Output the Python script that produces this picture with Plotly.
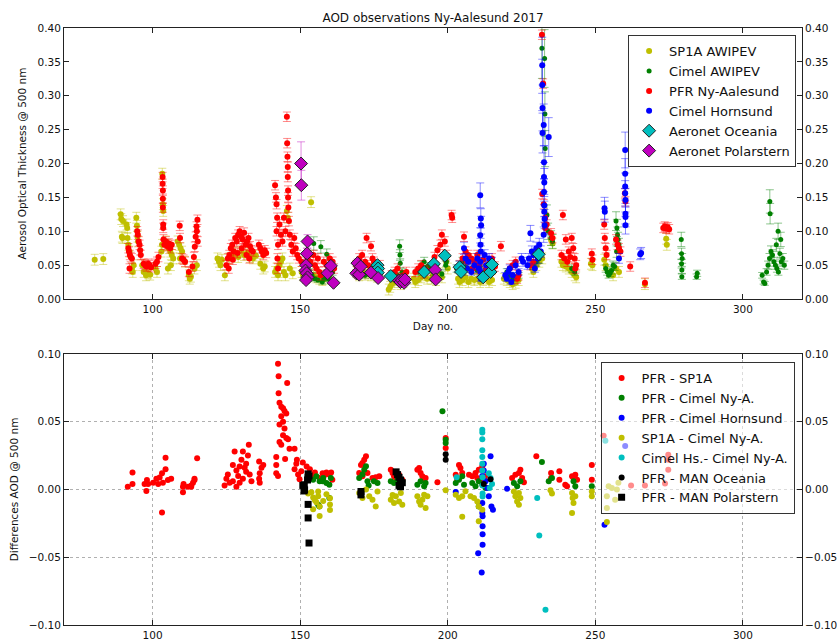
import plotly.graph_objects as go

# ---------------- upper panel: AOD at 500 nm per instrument ----------------
SP1A_DAY = [80.4, 83.3,
            89.2, 89.4, 89.6, 89.8, 90.0, 91.2, 91.4, 91.5, 91.8, 92.2,
            93.0, 93.3, 93.6, 94.5, 94.7, 94.9, 95.1,
            96.5, 97.0, 97.8, 98.5, 99.2, 101.0, 101.5,
            103.0, 103.2, 103.3, 103.5, 103.6, 104.5, 105.0, 105.2, 105.5, 106.0, 106.2, 106.5, 107.0,
            108.5, 109.0, 109.3, 109.5, 110.0, 111.0, 112.3, 112.6, 113.0, 114.2, 115.0,
            122.0, 122.5, 123.0, 123.5, 124.5, 126.0, 127.0, 128.0, 129.0, 130.0, 131.0, 132.0, 133.0, 134.0, 135.0,
            136.5, 137.5, 138.0, 141.5, 142.0, 142.5, 143.0, 143.5, 144.0, 144.5, 145.0, 145.5, 145.8, 146.5, 147.5,
            150.5, 151.0, 151.5, 152.0, 152.5, 153.0, 153.7, 154.5, 155.5, 156.5, 157.5, 158.5, 160.0,
            169.0, 169.5, 170.0, 171.0, 172.0, 173.0, 174.0, 175.0, 175.5, 176.0,
            180.0, 180.5, 181.0, 182.0, 183.0, 184.0, 185.0, 188.5, 189.0, 190.0, 191.0, 192.0, 193.0,
            194.5, 195.0, 196.0, 197.0, 198.0, 199.5, 200.0,
            203.5, 204.0, 205.0, 206.0, 207.0, 208.0, 209.0, 210.0, 211.0, 212.0, 213.0, 214.0, 215.0,
            219.0, 220.0, 221.0, 222.0, 223.0, 224.0, 228.5, 229.0, 230.0, 231.0, 232.0, 235.0, 235.5,
            238.5, 239.0, 240.0, 241.0, 242.0, 243.0, 243.5, 248.5, 249.0,
            253.0, 253.5, 255.0, 256.0, 257.0, 258.0, 266.8, 274.0, 274.2]
SP1A_AOD = [0.058, 0.059,
            0.125, 0.118, 0.092, 0.090, 0.115, 0.110, 0.105, 0.090, 0.080, 0.070,
            0.045, 0.040, 0.050, 0.120, 0.108, 0.092, 0.085,
            0.050, 0.040, 0.035, 0.038, 0.036, 0.045, 0.040,
            0.070, 0.080, 0.185, 0.140, 0.130, 0.085, 0.080, 0.045, 0.075, 0.070, 0.050, 0.065, 0.060,
            0.085, 0.080, 0.060, 0.075, 0.070, 0.055, 0.035, 0.030, 0.033, 0.045, 0.050,
            0.060, 0.055, 0.050, 0.058, 0.035, 0.060, 0.065, 0.068, 0.062, 0.070, 0.065, 0.068, 0.062, 0.060, 0.064,
            0.052, 0.045, 0.048, 0.040, 0.045, 0.035, 0.050, 0.055, 0.060, 0.040, 0.035, 0.130, 0.120, 0.045, 0.038,
            0.040, 0.035, 0.045, 0.038, 0.033, 0.040, 0.143, 0.035, 0.032, 0.030, 0.028, 0.030, 0.035,
            0.040, 0.038, 0.035, 0.040, 0.036, 0.038, 0.035, 0.050, 0.040, 0.033,
            0.014, 0.018, 0.022, 0.025, 0.028, 0.022, 0.025, 0.030, 0.025, 0.028, 0.032, 0.035, 0.030,
            0.030, 0.035, 0.028, 0.038, 0.032, 0.055, 0.045,
            0.030, 0.025, 0.028, 0.032, 0.025, 0.030, 0.028, 0.030, 0.025, 0.028, 0.030, 0.025, 0.028,
            0.030, 0.028, 0.025, 0.022, 0.024, 0.028, 0.045, 0.040, 0.050, 0.055, 0.060, 0.087, 0.082,
            0.055, 0.050, 0.048, 0.045, 0.040, 0.035, 0.032, 0.052, 0.050,
            0.058, 0.050, 0.040, 0.035, 0.045, 0.040, 0.022, 0.089, 0.080]

CIMEL_AWI_DAY = [153.0, 154.0, 154.6, 155.0, 156.0, 157.0, 157.5, 158.0, 159.0, 159.5, 160.0, 161.0,
                 170.0, 171.0, 172.0, 173.0, 174.0, 176.0, 177.0,
                 182.0, 183.0, 183.7, 183.8, 183.9, 184.5, 185.0, 186.0,
                 190.0, 191.0, 192.0, 193.0, 194.0, 195.0, 196.0, 198.0, 199.3, 199.5,
                 203.0, 204.0, 205.0, 206.0, 207.0, 208.0, 209.0, 210.0, 211.0, 212.0, 213.0, 214.0,
                 220.0, 221.0, 222.0, 223.0, 224.0, 229.0, 230.0, 231.0,
                 231.9, 232.8, 232.9, 233.0, 233.6, 234.0, 235.0, 235.5, 242.0, 243.0,
                 253.5, 254.0, 254.5, 255.0, 255.5, 256.0, 256.5, 257.0, 257.2, 257.3, 257.5, 257.7, 258.0,
                 279.1, 279.2, 279.2, 279.3, 279.3, 279.4, 284.3, 284.5,
                 306.5, 307.0, 307.4, 308.0, 308.5, 309.0, 309.1, 309.2, 309.5, 310.0, 310.5, 311.0,
                 311.3, 311.5, 311.9, 312.0, 312.5, 312.8, 313.0, 313.5, 314.0]
CIMEL_AWI_AOD = [0.040, 0.035, 0.082, 0.030, 0.028, 0.077, 0.025, 0.030, 0.066, 0.030, 0.035, 0.040,
                 0.040, 0.045, 0.035, 0.038, 0.042, 0.045, 0.040,
                 0.030, 0.035, 0.078, 0.065, 0.053, 0.040, 0.035, 0.030,
                 0.040, 0.050, 0.055, 0.048, 0.045, 0.040, 0.045, 0.037, 0.050, 0.055,
                 0.045, 0.050, 0.055, 0.048, 0.060, 0.045, 0.050, 0.042, 0.048, 0.040, 0.045, 0.050,
                 0.040, 0.035, 0.030, 0.032, 0.035, 0.050, 0.055, 0.060,
                 0.370, 0.355, 0.273, 0.222, 0.124, 0.100, 0.090, 0.085, 0.045, 0.040,
                 0.045, 0.040, 0.035, 0.038, 0.042, 0.050, 0.048, 0.115, 0.070, 0.105, 0.095, 0.088, 0.080,
                 0.088, 0.067, 0.052, 0.043, 0.033, 0.060, 0.033, 0.038,
                 0.035, 0.025, 0.023, 0.040, 0.050, 0.060, 0.144, 0.126, 0.070, 0.065, 0.055, 0.050,
                 0.080, 0.045, 0.100, 0.040, 0.067, 0.088, 0.055, 0.060, 0.050]

PFR_DAY = [91.8, 92.0, 92.2, 92.3, 92.6, 93.0, 94.8, 95.0, 95.3, 95.6, 95.8, 96.0,
           97.0, 97.5, 98.0, 98.5, 99.0, 99.5, 101.0, 101.5, 102.0,
           103.4, 103.4, 103.5, 103.5, 103.5, 103.6, 103.6, 103.7, 104.0, 104.5, 105.0, 105.5, 106.0, 106.5,
           109.2, 109.3, 110.0, 110.5, 111.0, 112.3, 113.5, 114.0, 114.3, 114.6, 114.9, 115.0, 115.2, 115.3,
           125.0, 125.5, 125.8, 126.0, 126.5, 127.0, 127.2, 127.5, 128.0, 128.5, 128.8, 129.0, 129.5,
           130.0, 130.2, 130.5, 131.0, 131.5, 131.8, 132.0, 132.5, 132.8, 133.0, 133.5, 134.0,
           136.0, 136.5, 137.0, 137.5, 138.0, 138.5,
           141.5, 141.8, 142.0, 142.0, 142.2, 142.3, 142.5, 142.5, 143.0, 143.5, 144.0, 144.5, 145.0,
           145.5, 145.6, 145.7, 145.8, 145.8, 145.9, 145.9, 146.0, 146.2, 146.5, 147.0, 147.5, 148.0, 148.5, 149.0, 149.5,
           150.5, 151.5, 152.5, 153.5, 154.5, 155.0, 155.5, 156.0, 156.5, 157.0, 158.0, 159.0, 160.0, 161.0, 161.5,
           169.0, 170.0, 171.0, 172.0, 172.5, 173.0, 174.0, 174.5, 175.0, 176.0, 177.0,
           181.0, 182.0, 183.0, 184.0, 185.0, 186.0, 189.0, 190.0, 191.0, 192.0, 193.0,
           195.5, 196.5, 197.5, 198.0, 199.0, 199.5, 201.3, 201.5,
           204.0, 205.0, 205.5, 206.0, 206.5, 207.0, 208.0, 208.5, 209.0, 210.0, 210.5, 211.0, 212.0, 213.0,
           214.0, 215.0, 216.0, 218.0,
           221.0, 222.0, 223.0, 223.5, 224.0, 228.0, 229.0,
           231.9, 232.3, 232.0, 232.5, 233.0, 233.0, 233.5, 235.0, 235.5,
           238.5, 239.0, 239.5, 240.0, 240.5, 241.0, 241.5, 242.0, 242.5, 243.0, 243.5, 243.2,
           248.8, 249.0, 253.0, 253.2, 253.5, 253.8, 257.0, 257.5, 258.0, 258.5, 260.0, 260.2,
           261.8, 266.8, 273.0, 273.5, 274.0, 274.5, 275.0]
PFR_AOD = [0.075, 0.070, 0.045, 0.065, 0.062, 0.060, 0.100, 0.095, 0.085, 0.080, 0.072, 0.065,
           0.052, 0.050, 0.048, 0.052, 0.050, 0.047, 0.052, 0.055, 0.062,
           0.180, 0.170, 0.160, 0.148, 0.135, 0.110, 0.105, 0.088, 0.080, 0.085, 0.078, 0.082, 0.075, 0.080,
           0.108, 0.090, 0.060, 0.058, 0.055, 0.040, 0.048, 0.062, 0.077, 0.092, 0.107, 0.100, 0.117, 0.085,
           0.050, 0.060, 0.045, 0.065, 0.075, 0.080, 0.058, 0.070, 0.090, 0.085, 0.068, 0.095, 0.100,
           0.092, 0.075, 0.088, 0.098, 0.080, 0.065, 0.085, 0.090, 0.060, 0.078, 0.072, 0.070,
           0.080, 0.075, 0.070, 0.065, 0.072, 0.068,
           0.168, 0.150, 0.140, 0.100, 0.120, 0.060, 0.080, 0.045, 0.110, 0.095, 0.085, 0.120, 0.100,
           0.269, 0.230, 0.210, 0.195, 0.180, 0.160, 0.150, 0.135, 0.115, 0.095, 0.080, 0.070, 0.090, 0.075, 0.065, 0.060,
           0.055, 0.050, 0.060, 0.055, 0.065, 0.050, 0.045, 0.060, 0.040, 0.035, 0.055, 0.050, 0.060, 0.055, 0.045,
           0.050, 0.060, 0.065, 0.055, 0.090, 0.050, 0.078, 0.060, 0.055, 0.045, 0.050,
           0.035, 0.040, 0.045, 0.030, 0.035, 0.040, 0.040, 0.045, 0.050, 0.038, 0.042,
           0.062, 0.072, 0.080, 0.095, 0.085, 0.065, 0.124, 0.120,
           0.050, 0.060, 0.092, 0.070, 0.055, 0.065, 0.060, 0.045, 0.055, 0.065, 0.050, 0.040, 0.058, 0.045,
           0.052, 0.060, 0.048, 0.078,
           0.045, 0.050, 0.055, 0.030, 0.035, 0.050, 0.055,
           0.390, 0.318, 0.155, 0.140, 0.120, 0.105, 0.110, 0.097, 0.090,
           0.065, 0.124, 0.060, 0.088, 0.055, 0.070, 0.062, 0.090, 0.075, 0.060, 0.050, 0.045,
           0.067, 0.058, 0.110, 0.090, 0.075, 0.065, 0.088, 0.080, 0.075, 0.070, 0.156, 0.144,
           0.048, 0.024, 0.105, 0.107, 0.104, 0.106, 0.103]

CIMEL_HORN_DAY = [203.5, 204.0, 205.0, 205.5, 206.0, 206.5, 207.0, 208.0, 209.0, 210.0, 210.5,
                  211.0, 211.2, 211.0, 211.3, 211.1, 211.2, 211.0, 211.1, 211.2, 212.5, 213.0, 214.0, 214.5, 215.0,
                  219.5, 220.0, 220.5, 221.0, 221.5, 222.0, 223.0, 224.0, 225.0, 225.5,
                  227.0, 227.5, 228.0, 228.5, 229.0, 229.5, 230.0, 230.5, 231.0, 231.5,
                  232.0, 232.0, 232.1, 232.5, 232.1, 234.2, 232.6, 232.6, 232.7, 232.6, 232.7, 232.7, 232.8, 232.8, 232.5,
                  253.1, 253.2, 258.0, 260.1, 260.1, 260.1, 260.1, 260.2, 260.2, 260.2, 260.2, 265.2, 265.5]
CIMEL_HORN_AOD = [0.045, 0.050, 0.040, 0.075, 0.060, 0.045, 0.055, 0.040, 0.050, 0.060, 0.045,
                  0.153, 0.119, 0.094, 0.109, 0.080, 0.070, 0.055, 0.040, 0.030, 0.065, 0.050, 0.060, 0.045, 0.055,
                  0.035, 0.030, 0.040, 0.045, 0.025, 0.035, 0.050, 0.040, 0.060, 0.055,
                  0.050, 0.060, 0.097, 0.070, 0.065, 0.045, 0.075, 0.060, 0.080, 0.070,
                  0.345, 0.316, 0.282, 0.257, 0.245, 0.239, 0.202, 0.180, 0.172, 0.158, 0.138, 0.129, 0.118, 0.109, 0.095,
                  0.134, 0.129, 0.060, 0.220, 0.185, 0.166, 0.156, 0.146, 0.126, 0.121, 0.109, 0.066, 0.068]

OCEANIA_DAY = [176.2, 176.4, 176.3, 180.7, 192.0, 195.3, 199.0, 204.0, 204.5, 212.0, 214.5, 215.0, 230.8]
OCEANIA_AOD = [0.050, 0.045, 0.039, 0.034, 0.040, 0.052, 0.064, 0.047, 0.040, 0.032, 0.040, 0.051, 0.066]

POLARSTERN_DAY = [150.3, 150.4, 152.5, 152.3, 152.0, 151.8, 152.2, 152.5, 152.0,
                  159.3, 160.4, 161.3, 169.0, 169.4, 170.0, 170.5, 174.0, 176.4,
                  183.5, 184.0, 184.5, 185.2, 185.5, 195.7, 195.9]
POLARSTERN_AOD = [0.200, 0.168, 0.085, 0.067, 0.050, 0.042, 0.038, 0.032, 0.028,
                  0.038, 0.049, 0.024, 0.038, 0.053, 0.036, 0.048, 0.039, 0.031,
                  0.027, 0.025, 0.028, 0.024, 0.029, 0.043, 0.029]
POLARSTERN_ERR = [0.032, 0.022, 0.010, 0.008, 0.006, 0.005, 0.005, 0.005, 0.005,
                  0.005, 0.006, 0.004, 0.005, 0.006, 0.005, 0.005, 0.005, 0.004,
                  0.004, 0.004, 0.004, 0.004, 0.004, 0.005, 0.004]

# instrument uncertainties (AOD units / percent)
SP1A_UNC = 0.008
PFR_UNC = 0.007
OCEANIA_UNC = 0.004
CIMEL_UNC_PCT = 12

# ---------------- lower panel: pairwise differences ----------------
D_PFR_SP1A_DAY = [91.6, 93.2, 93.2, 97.3, 98.1, 98.5, 97.9, 100.2, 101.3, 101.9, 102.4,
                  103.2, 103.2, 103.5, 104.4, 104.4, 105.2, 106.3,
                  110.3, 110.3, 110.5, 112.0, 113.1, 113.1, 113.7, 114.2, 114.2, 115.1,
                  124.4, 125.0, 125.5, 126.1, 127.2, 127.2, 127.8, 128.4, 128.4, 129.0, 129.5, 129.5,
                  130.1, 130.6, 130.6, 131.2, 131.7, 131.7, 132.3, 132.6, 132.9, 133.5,
                  136.1, 136.1, 136.3, 136.3, 136.9, 137.5,
                  142.5, 142.7, 145.6, 142.7, 143.0, 143.6, 144.2, 144.7, 145.3, 143.6, 144.2, 143.0,
                  144.7, 144.2, 145.3, 143.0, 145.9, 146.4, 143.6, 141.9, 141.9, 141.9, 142.5, 144.9,
                  148.1, 148.9, 148.7, 148.1, 149.3, 149.8, 150.4, 150.9, 152.2, 153.3, 154.4, 155.0,
                  156.6, 157.8, 158.9, 160.5, 160.9,
                  157.6, 158.7, 159.9, 170.0, 170.6, 171.1, 171.7, 172.3, 171.1, 172.8, 174.5, 175.6, 176.8,
                  180.7, 181.3, 181.8, 182.4, 183.5, 184.6, 189.7, 190.3, 190.8, 191.4, 192.0, 192.5, 196.5,
                  199.3, 199.3, 202.7, 203.8, 204.3, 204.9, 203.2, 207.2, 208.3, 209.4, 210.0, 210.5,
                  211.7, 211.7, 212.8,
                  221.8, 222.9, 224.1, 224.6, 225.2, 225.8, 230.0, 235.0, 235.0, 237.8, 237.8, 239.8, 240.4,
                  242.1, 242.6, 243.2, 243.8, 248.8, 248.8, 252.8, 262.1, 266.8, 273.6, 274.7, 274.7, 274.7]
D_PFR_SP1A = [0.002, 0.004, 0.0125, 0.004, 0.007, 0.004, -0.0012, 0.005, 0.008, 0.004, 0.0088,
              0.012, -0.017, 0.005, 0.015, 0.0235, 0.007, 0.008,
              0.002, -0.002, 0.004, 0.002, 0.002, 0.003, 0.005, 0.007, 0.008, 0.023,
              0.003, 0.008, 0.011, 0.005, 0.018, 0.006, 0.028, 0.014, 0.002, 0.010, 0.017, 0.005,
              0.022, 0.028, 0.008, 0.016, 0.013, 0.019, 0.025, 0.033, 0.011, 0.006,
              0.0207, 0.008, 0.005, 0.012, 0.016, 0.018,
              0.0928, 0.0835, 0.0786, 0.071, 0.064, 0.061, 0.060, 0.058, 0.056, 0.054, 0.050, 0.048,
              0.045, 0.040, 0.038, 0.035, 0.037, 0.030, 0.033, 0.024, 0.018, 0.012, 0.010, 0.0225,
              0.030, 0.022, 0.019, 0.015, 0.011, 0.0075, 0.0135, 0.020, 0.017, 0.015, 0.010, 0.0125,
              0.0085, 0.007, 0.0125, 0.0125, 0.0072,
              0.012, 0.011, 0.011, 0.0121, 0.018, 0.0196, 0.022, 0.0245, 0.0097, 0.0121, 0.0084, 0.0091, 0.0097,
              0.0146, 0.0121, 0.0097, 0.0084, 0.0109, 0.0072, 0.0146, 0.0158, 0.0121, 0.0097, 0.0072, 0.0084, 0.0054,
              0.0379, 0.0306, 0.0109, 0.018, 0.0158, 0.0121, 0.0072, 0.0109, 0.0097, 0.0121, 0.0084, 0.0146,
              0.0171, 0.006, 0.0097,
              0.0084, 0.0109, 0.0121, 0.0146, 0.0084, 0.0054, 0.0245, 0.0121, 0.0084, 0.0134, 0.0072, 0.0035, 0.0023,
              0.0097, 0.0084, 0.0109, 0.0072, 0.018, 0.0072, 0.0397, 0.003, 0.003, 0.0045, 0.0257, 0.022, 0.0146]

D_PFR_CIMEL_DAY = [154.4, 155.5, 156.6, 157.8, 158.9, 156.1, 156.5, 159.9, 157.6, 159.9, 160.4,
                   170.0, 171.1, 172.3, 171.7, 172.8, 173.2, 175.0, 176.2, 180.7, 181.8, 183.0, 184.1, 184.6,
                   189.7, 190.8, 192.0, 192.5, 198.2, 199.3, 199.3, 202.7, 203.8, 204.9, 205.5,
                   208.3, 209.4, 210.5, 211.7, 212.8, 210.5, 222.4, 223.5, 224.6, 231.9, 234.2, 235.3,
                   242.6, 243.2, 248.8]
D_PFR_CIMEL = [0.0072, 0.0097, 0.006, 0.0084, 0.0047, -0.0112, -0.0125, -0.0063, 0.006, 0.0035, 0.0084,
               0.0084, 0.011, 0.0171, 0.0146, 0.006, 0.003, 0.006, 0.0047, 0.006, 0.0047, 0.0072, 0.0035, 0.006,
               0.0035, 0.006, 0.0023, 0.0047, 0.0577, 0.0367, 0.0343, 0.0047, 0.0072, 0.0097, 0.0035,
               0.0047, 0.0023, 0.006, 0.0035, 0.001, -0.0125, 0.0047, 0.0023, 0.006, 0.0202, 0.006, 0.0084,
               0.006, 0.0023, 0.0023]

D_PFR_HORN_DAY = [202.7, 210.3, 211.5, 211.7, 211.7, 211.8, 211.8, 211.8, 211.8, 214.5, 212.2,
                  212.2, 211.7, 212.8, 213.4, 213.9, 214.8, 215.3, 220.1, 253.1, 260.1]
D_PFR_HORN = [-0.0018, -0.047, -0.0612, -0.010, -0.0174, -0.0198, -0.0272, -0.033, -0.0408, 0.0245, 0.019,
              0.014, 0.010, 0.006, 0.001, -0.005, -0.0125, -0.015, 0.0005, -0.026, 0.032]

D_SP1A_CIMEL_DAY = [152.7, 153.8, 154.4, 155.0, 155.5, 156.1, 156.6, 157.8, 158.9, 156.6, 154.4, 156.1,
                    160.1, 160.1, 160.1,
                    170.0, 171.1, 172.3, 173.4, 174.5, 175.6, 176.2, 180.7, 181.8, 182.4, 183.5, 184.1, 184.6, 181.3,
                    189.7, 190.3, 190.8, 191.4, 192.5, 192.0, 193.1, 199.3, 202.7, 203.8, 204.9, 204.9, 206.0,
                    207.7, 208.9, 210.0, 210.5, 210.5, 211.7, 222.4, 222.9, 223.5, 224.1, 224.6, 224.1, 234.8, 235.3,
                    242.1, 242.3, 242.6, 243.2, 242.1, 248.8, 248.8, 253.9, 253.9, 256.7, 253.9, 254.5, 255.6,
                    257.3, 257.8]
D_SP1A_CIMEL = [-0.003, -0.002, -0.006, -0.008, -0.0095, -0.005, -0.0125, -0.0085, -0.0035, -0.0195, -0.0145, -0.0015,
                -0.011, -0.0151, -0.0065,
                -0.0026, -0.0063, 0.0, -0.005, -0.0075, -0.0125, -0.0014, -0.0075, -0.010, -0.005, -0.0088, -0.0026, -0.0112, -0.004,
                -0.005, -0.0088, -0.0112, -0.0075, -0.0137, -0.0038, -0.005, -0.0005, -0.0038, -0.0063, -0.005, -0.0202, -0.0013,
                -0.005, -0.0063, -0.0088, -0.0125, -0.0235, -0.015, -0.0014, -0.005, -0.0088, -0.0112, -0.0063, -0.0026, -0.0005, -0.003,
                -0.0026, -0.0063, -0.010, -0.005, -0.0174, -0.0014, -0.005, -0.0137, -0.024, -0.0076, -0.005, 0.0024, 0.0011,
                0.0, 0.005]

D_HORN_CIMEL_DAY = [203.0, 211.7, 211.7, 211.7, 211.7, 211.7, 211.7, 211.7, 211.8, 211.8, 211.8, 211.8,
                    213.9, 214.5, 215.0, 214.2, 230.3, 231.0, 233.1, 253.4]
D_HORN_CIMEL = [0.009, 0.044, 0.042, 0.037, 0.029, 0.024, 0.019, 0.014, 0.009, 0.003, -0.003, -0.0051,
                0.012, 0.0085, 0.004, 0.001, -0.0063, -0.034, -0.0887, 0.036]

D_PFR_OCEANIA_DAY = [199.3, 199.3, 212.2, 214.5]
D_PFR_OCEANIA = [0.026, 0.022, 0.004, 0.0075]

D_PFR_POLAR_DAY = [150.9, 151.4, 151.3, 151.5, 152.5, 152.7, 152.7, 153.0, 152.7, 152.7, 153.0,
                   170.6, 170.6, 182.5, 183.0, 183.5, 184.0, 184.6, 183.5, 184.0]
D_PFR_POLAR = [0.003, 0.0035, -0.0011, -0.0003, 0.007, 0.0087, 0.0115, 0.010, -0.011, -0.021, -0.0395,
               -0.0015, -0.004, 0.013, 0.011, 0.009, 0.007, 0.005, 0.003, 0.002]

pairs = [(SP1A_DAY, SP1A_AOD), (CIMEL_AWI_DAY, CIMEL_AWI_AOD), (PFR_DAY, PFR_AOD),
         (CIMEL_HORN_DAY, CIMEL_HORN_AOD), (OCEANIA_DAY, OCEANIA_AOD), (POLARSTERN_DAY, POLARSTERN_AOD),
         (D_PFR_SP1A_DAY, D_PFR_SP1A), (D_PFR_CIMEL_DAY, D_PFR_CIMEL), (D_PFR_HORN_DAY, D_PFR_HORN),
         (D_SP1A_CIMEL_DAY, D_SP1A_CIMEL), (D_HORN_CIMEL_DAY, D_HORN_CIMEL),
         (D_PFR_OCEANIA_DAY, D_PFR_OCEANIA), (D_PFR_POLAR_DAY, D_PFR_POLAR)]
for i, (a, b) in enumerate(pairs):
    assert len(a) == len(b), (i, len(a), len(b))
assert len(POLARSTERN_ERR) == len(POLARSTERN_DAY)

# matplotlib "classic" colour letters
Y, G, R, B, C, M, K = "#bfbf00", "#008000", "#ff0000", "#0000ff", "#00bfbf", "#bf00bf", "#000000"


def rgba(hex_color, a):
    h = hex_color.lstrip("#")
    return "rgba(%d,%d,%d,%.2f)" % (int(h[0:2], 16), int(h[2:4], 16), int(h[4:6], 16), a)


fig = go.Figure()


def dots(x, y, name, color, size=6, symbol="circle", err=None, xa="x", ya="y", legend="legend", edge=None):
    marker = dict(color=color, size=size, symbol=symbol,
                  line=dict(width=1 if edge else 0, color=edge or color))
    tr = go.Scatter(x=x, y=y, mode="markers", name=name, marker=marker,
                    xaxis=xa, yaxis=ya, legend=legend)
    if err is not None:
        e = dict(err)
        e.update(color=rgba(color, 0.45), thickness=1, width=4, visible=True)
        tr.error_y = e
    fig.add_trace(tr)


# upper panel
dots(SP1A_DAY, SP1A_AOD, "SP1A AWIPEV", Y, err=dict(type="constant", value=SP1A_UNC))
dots(CIMEL_AWI_DAY, CIMEL_AWI_AOD, "Cimel AWIPEV", G, size=5, err=dict(type="percent", value=CIMEL_UNC_PCT))
dots(PFR_DAY, PFR_AOD, "PFR Ny-Aalesund", R, err=dict(type="constant", value=PFR_UNC))
dots(CIMEL_HORN_DAY, CIMEL_HORN_AOD, "Cimel Hornsund", B, err=dict(type="percent", value=CIMEL_UNC_PCT))
dots(OCEANIA_DAY, OCEANIA_AOD, "Aeronet Oceania", C, size=10, symbol="diamond", edge="#222222",
     err=dict(type="constant", value=OCEANIA_UNC))
dots(POLARSTERN_DAY, POLARSTERN_AOD, "Aeronet Polarstern", M, size=10, symbol="diamond", edge="#222222",
     err=dict(type="data", array=POLARSTERN_ERR))

# lower panel
lo = dict(xa="x2", ya="y2", legend="legend2")
dots(D_PFR_SP1A_DAY, D_PFR_SP1A, "PFR - SP1A", R, **lo)
dots(D_PFR_CIMEL_DAY, D_PFR_CIMEL, "PFR - Cimel Ny-A.", G, **lo)
dots(D_PFR_HORN_DAY, D_PFR_HORN, "PFR - Cimel Hornsund", B, **lo)
dots(D_SP1A_CIMEL_DAY, D_SP1A_CIMEL, "SP1A - Cimel Ny-A.", Y, **lo)
dots(D_HORN_CIMEL_DAY, D_HORN_CIMEL, "Cimel Hs.- Cimel Ny-A.", C, **lo)
dots(D_PFR_OCEANIA_DAY, D_PFR_OCEANIA, "PFR - MAN Oceania", K, **lo)
dots(D_PFR_POLAR_DAY, D_PFR_POLAR, "PFR - MAN Polarstern", K, size=7, symbol="square", **lo)

FONT = "DejaVu Sans"
TICKF = dict(family=FONT, size=10.5, color="#111111")
axis_common = dict(showline=True, linecolor="#222222", linewidth=1, ticks="inside", ticklen=5,
                   tickcolor="#222222", tickfont=TICKF, zeroline=False, automargin=False)
XTICKS = [100, 150, 200, 250, 300]
X_RANGE = [70, 320]
LEGEND_FONT = dict(size=13, family=FONT, color="#111111")

fig.update_layout(
    width=837, height=642,
    margin=dict(l=64, r=35, t=28, b=17, autoexpand=False),
    paper_bgcolor="white", plot_bgcolor="white",
    font=dict(family=FONT, color="#111111"),
    title=dict(text="AOD observations Ny-Aalesund 2017", x=0.5, xref="paper", xanchor="center",
               y=1 - 18 / 642, yref="container", yanchor="middle", font=dict(size=12, family=FONT)),
    xaxis=dict(domain=[0, 1], anchor="y", range=X_RANGE, tickvals=XTICKS, mirror="ticks", showgrid=False,
               title=dict(text="Day no.", font=dict(size=10.5, family=FONT), standoff=9), **axis_common),
    yaxis=dict(domain=[0.546, 1], anchor="x", range=[0, 0.4], dtick=0.05, tickformat=".2f", mirror="ticks",
               showgrid=False, title=dict(text="Aerosol Optical Thickness @ 500 nm",
                                          font=dict(size=10.5, family=FONT), standoff=8), **axis_common),
    yaxis3=dict(overlaying="y", anchor="x", side="right", range=[0, 0.4], dtick=0.05, tickformat=".2f",
                showgrid=False, **axis_common),
    xaxis2=dict(domain=[0, 1], anchor="y2", range=X_RANGE, tickvals=XTICKS, mirror="ticks", showgrid=True,
                gridcolor="#b0b0b0", griddash="dot", gridwidth=1, **axis_common),
    yaxis2=dict(domain=[0, 0.454], anchor="x2", range=[-0.1, 0.1], dtick=0.05, tickformat=".2f",
                mirror="ticks", showgrid=True, gridcolor="#b0b0b0", griddash="dot", gridwidth=1,
                title=dict(text="Differences AOD @ 500 nm", font=dict(size=10.5, family=FONT), standoff=8),
                **axis_common),
    yaxis4=dict(overlaying="y2", anchor="x2", side="right", range=[-0.1, 0.1], dtick=0.05, tickformat=".2f",
                showgrid=False, **axis_common),
    legend=dict(x=0.992, y=0.988, xanchor="right", yanchor="top", bgcolor="white",
                bordercolor="#333333", borderwidth=1, font=LEGEND_FONT,
                itemsizing="trace", tracegroupgap=0),
    legend2=dict(x=0.99, y=0.4405, xanchor="right", yanchor="top", bgcolor="rgba(255,255,255,0.55)",
                 bordercolor="#333333", borderwidth=1, font=LEGEND_FONT,
                 itemsizing="trace", tracegroupgap=0),
    showlegend=True,
)

# empty traces so the right-hand tick axes are registered
fig.add_trace(go.Scatter(x=[], y=[], xaxis="x", yaxis="y3", showlegend=False, hoverinfo="skip"))
fig.add_trace(go.Scatter(x=[], y=[], xaxis="x2", yaxis="y4", showlegend=False, hoverinfo="skip"))

fig.write_html("out.html")
